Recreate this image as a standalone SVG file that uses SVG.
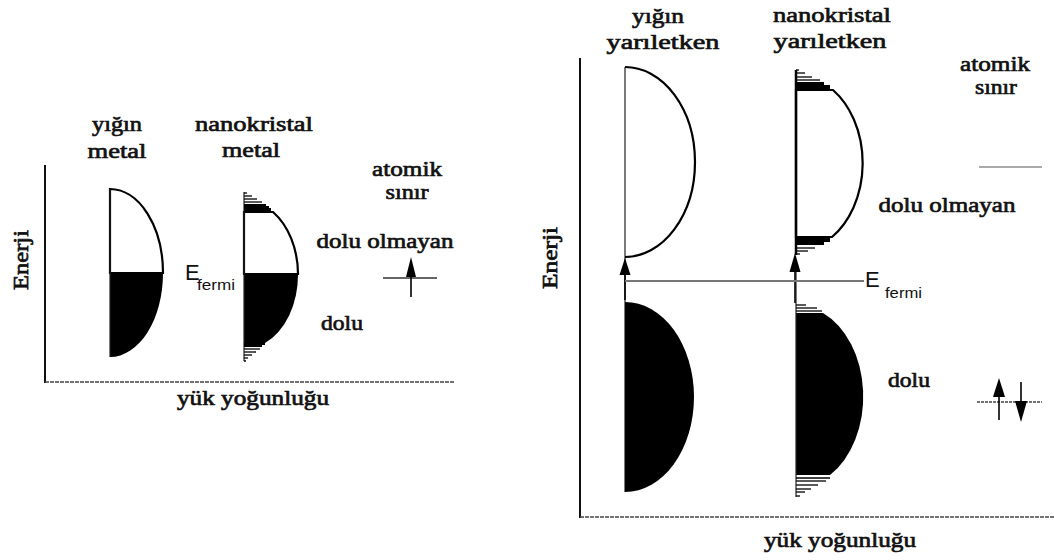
<svg xmlns="http://www.w3.org/2000/svg" width="1054" height="560" viewBox="0 0 1054 560">
<defs>
<style>
text.lbl{font-family:'Liberation Serif','Times New Roman',serif;font-weight:400;font-size:22px;fill:#111;stroke:#111;stroke-width:0.7;text-anchor:middle}
text.ef{font-family:'Liberation Sans',Arial,sans-serif;fill:#111}
.ax{stroke:#111;stroke-width:2;fill:none}
.xax{stroke:#444;stroke-width:1.6;stroke-dasharray:4 1;fill:none}
.edge{stroke:#222;stroke-width:1.2;fill:none}
.curve{stroke:#000;stroke-width:2.2}
.h{stroke:#000;stroke-width:1.3}
.arr{stroke:#000;stroke-width:1.6;fill:none}
.head{fill:#000}
</style>
</defs>
<rect width="1054" height="560" fill="#fff"/>

<g id="left-axes">
<line class="ax" x1="45" y1="165" x2="45" y2="383"/>
<line class="xax" x1="45" y1="382" x2="455" y2="382"/>
<text class="lbl" transform="translate(28,260) rotate(-90)" textLength="60" lengthAdjust="spacingAndGlyphs">Enerji</text>
<text class="lbl" x="253" y="405" textLength="152" lengthAdjust="spacingAndGlyphs">yük yoğunluğu</text>
</g>

<g id="bulk-metal">
<text class="lbl" x="117" y="131" textLength="50" lengthAdjust="spacingAndGlyphs">yığın</text>
<text class="lbl" x="117" y="158" textLength="59" lengthAdjust="spacingAndGlyphs">metal</text>
<path d="M110,189 A53,84 0 0 1 163,273 H110 Z" fill="#fff" class="curve"/>
<path d="M110,273 H163 A53,84 0 0 1 110,357 Z" fill="#000"/>
<line class="edge" x1="110" y1="189" x2="110" y2="357"/>
</g>

<g id="nano-metal">
<text class="lbl" x="254" y="131" textLength="118" lengthAdjust="spacingAndGlyphs">nanokristal</text>
<text class="lbl" x="251" y="157" textLength="58" lengthAdjust="spacingAndGlyphs">metal</text>
<path d="M244,212 H273 A54,74 0 0 1 298,274 H244 Z" fill="#fff" class="curve"/>
<path d="M244,274 H298 A54,74 0 0 1 265,343 H244 Z" fill="#000"/>
<line class="edge" x1="244" y1="192" x2="244" y2="361"/>
<g>
<line class="h" x1="244" y1="193" x2="247" y2="193"/>
<line class="h" x1="244" y1="196" x2="252" y2="196"/>
<line class="h" x1="244" y1="199" x2="257" y2="199"/>
<line class="h" x1="244" y1="202" x2="262" y2="202"/>
<path d="M244,204 H266 V206 H269 V208 H271 V212 H244 Z" fill="#000"/>
<path d="M244,343 H265 V345 H262 V347 H244 Z" fill="#000"/>
<line class="h" x1="244" y1="349" x2="260" y2="349"/>
<line class="h" x1="244" y1="352" x2="256" y2="352"/>
<line class="h" x1="244" y1="355" x2="252" y2="355"/>
<line class="h" x1="244" y1="358" x2="248" y2="358"/>
<line class="h" x1="244" y1="361" x2="246" y2="361"/>
</g>
<text class="ef" x="185" y="280" font-size="22">E</text>
<text class="ef" x="197" y="290" font-size="15" textLength="38" lengthAdjust="spacingAndGlyphs">fermi</text>
</g>

<g id="atomic-metal">
<text class="lbl" x="407" y="176" textLength="70" lengthAdjust="spacingAndGlyphs">atomik</text>
<text class="lbl" x="407" y="199" textLength="43" lengthAdjust="spacingAndGlyphs">sınır</text>
<text class="lbl" x="385" y="248" textLength="137" lengthAdjust="spacingAndGlyphs">dolu olmayan</text>
<text class="lbl" x="342" y="330" textLength="42" lengthAdjust="spacingAndGlyphs">dolu</text>
<line stroke="#333" stroke-width="1.6" x1="383" y1="278" x2="437" y2="278"/>
<line class="arr" x1="411" y1="297" x2="411" y2="270"/>
<polygon class="head" points="411,257 416,277 406,277"/>
</g>

<g id="right-axes">
<line class="ax" x1="580" y1="58" x2="580" y2="518" stroke-width="2.6"/>
<line class="xax" x1="580" y1="517" x2="1054" y2="517"/>
<text class="lbl" transform="translate(557,258) rotate(-90)" textLength="62" lengthAdjust="spacingAndGlyphs">Enerji</text>
<text class="lbl" x="840" y="547" textLength="152" lengthAdjust="spacingAndGlyphs">yük yoğunluğu</text>
</g>

<g id="bulk-semi">
<text class="lbl" x="658" y="23" textLength="52" lengthAdjust="spacingAndGlyphs">yığın</text>
<text class="lbl" x="663" y="49" textLength="113" lengthAdjust="spacingAndGlyphs">yarıletken</text>
<line class="edge" x1="625" y1="67" x2="625" y2="492"/>
<path d="M625,67 A70,95 0 0 1 625,257" fill="none" class="curve"/>
<path d="M625,302 A69,95 0 0 1 625,492 Z" fill="#000"/>
<line class="arr" x1="625" y1="300" x2="625" y2="268"/>
<polygon class="head" points="625,258 630.5,275 619.5,275"/>
</g>

<g id="nano-semi">
<text class="lbl" x="832" y="22" textLength="118" lengthAdjust="spacingAndGlyphs">nanokristal</text>
<text class="lbl" x="830" y="48" textLength="113" lengthAdjust="spacingAndGlyphs">yarıletken</text>
<path d="M796,90 H833 A67,88 0 0 1 832,237 H796 Z" fill="#fff" class="curve"/>
<line stroke="#000" stroke-width="2.5" x1="796" y1="70" x2="796" y2="255"/>
<g>
<line class="h" x1="796" y1="70" x2="799" y2="70"/>
<line class="h" x1="796" y1="73" x2="805" y2="73"/>
<line class="h" x1="796" y1="77" x2="812" y2="77"/>
<line class="h" x1="796" y1="80" x2="820" y2="80"/>
<path d="M796,82 H824 V85 H830 V90 H796 Z" fill="#000"/>
<path d="M796,237 H830 V242 H824 V245 H796 Z" fill="#000"/>
<line class="h" x1="796" y1="248" x2="815" y2="248"/>
<line class="h" x1="796" y1="251" x2="808" y2="251"/>
<line class="h" x1="796" y1="254" x2="800" y2="254"/>
</g>
<path d="M796,313 H823 A67,91 0 0 1 830,475 H796 Z" fill="#000"/>
<line class="edge" x1="796" y1="272" x2="796" y2="497"/>
<g>
<line class="h" x1="796" y1="305" x2="806" y2="305"/>
<line class="h" x1="796" y1="308" x2="817" y2="308"/>
<line class="h" x1="796" y1="311" x2="822" y2="311"/>
<line class="h" x1="796" y1="478" x2="830" y2="478"/>
<line class="h" x1="796" y1="481" x2="826" y2="481"/>
<line class="h" x1="796" y1="485" x2="818" y2="485"/>
<line class="h" x1="796" y1="489" x2="811" y2="489"/>
<line class="h" x1="796" y1="492" x2="805" y2="492"/>
<line class="h" x1="796" y1="496" x2="800" y2="496"/>
</g>
<line class="arr" x1="795" y1="303" x2="795" y2="265"/>
<polygon class="head" points="795,253 800.5,272 789.5,272"/>
</g>

<g id="fermi-right">
<line stroke="#777" stroke-width="2" x1="625" y1="281" x2="864" y2="281"/>
<text class="ef" x="865" y="287" font-size="22">E</text>
<text class="ef" x="885" y="298" font-size="15" textLength="37" lengthAdjust="spacingAndGlyphs">fermi</text>
</g>

<g id="atomic-semi">
<text class="lbl" x="995" y="71" textLength="70" lengthAdjust="spacingAndGlyphs">atomik</text>
<text class="lbl" x="996" y="94" textLength="42" lengthAdjust="spacingAndGlyphs">sınır</text>
<line stroke="#555" stroke-width="1.2" x1="979" y1="167" x2="1042" y2="167"/>
<text class="lbl" x="947" y="212" textLength="137" lengthAdjust="spacingAndGlyphs">dolu olmayan</text>
<text class="lbl" x="909" y="387" textLength="42" lengthAdjust="spacingAndGlyphs">dolu</text>
<line stroke="#444" stroke-width="1.5" stroke-dasharray="3 1" x1="977" y1="402" x2="1042" y2="402"/>
<line class="arr" x1="999" y1="420" x2="999" y2="390"/>
<polygon class="head" points="999,378 1005,397 993,397"/>
<line class="arr" x1="1021" y1="382" x2="1021" y2="410"/>
<polygon class="head" points="1021,422 1027,401 1015,401"/>
</g>
</svg>
